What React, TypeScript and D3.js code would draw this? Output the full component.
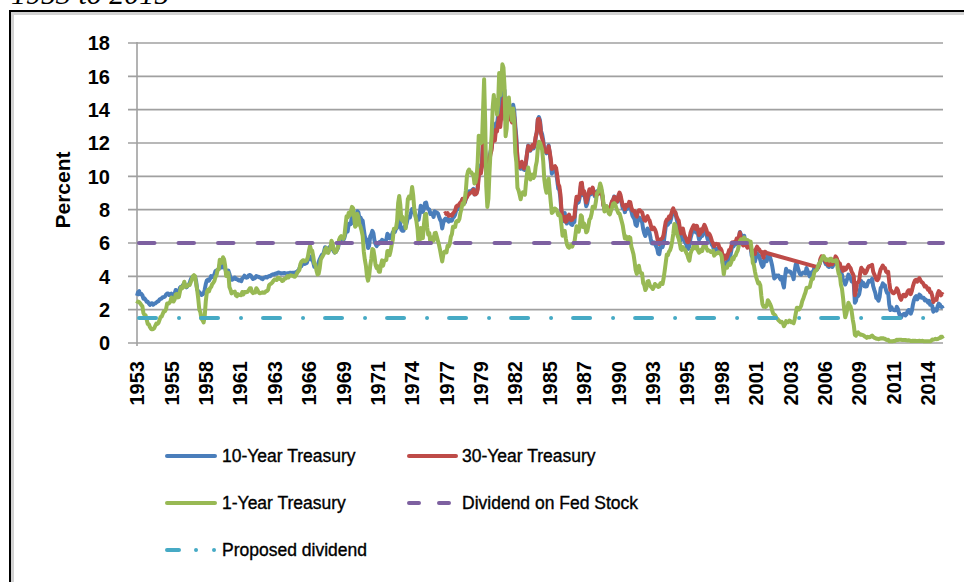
import * as d3 from 'd3';

// monthly yields, first value = April 1953
const tenYear = [
  2.83, 3.05, 3.11, 2.93, 2.95, 2.87, 2.66, 2.68, 2.59,
  2.48, 2.47, 2.37, 2.29, 2.37, 2.38, 2.30, 2.36, 2.38, 2.43, 2.48, 2.51,
  2.61, 2.65, 2.68, 2.75, 2.76, 2.78, 2.90, 2.97, 2.97, 2.88, 2.89, 2.96,
  2.90, 2.84, 2.96, 3.18, 3.07, 3.00, 3.11, 3.33, 3.38, 3.34, 3.49, 3.59,
  3.46, 3.34, 3.41, 3.48, 3.60, 3.80, 3.93, 3.93, 3.92, 3.97, 3.72, 3.21,
  3.09, 3.05, 2.98, 2.88, 2.92, 2.97, 3.20, 3.54, 3.76, 3.80, 3.74, 3.86,
  4.02, 3.96, 3.99, 4.12, 4.31, 4.34, 4.40, 4.43, 4.68, 4.53, 4.53, 4.69,
  4.72, 4.49, 4.25, 4.28, 4.35, 4.15, 3.90, 3.80, 3.80, 3.89, 3.93, 3.84,
  3.84, 3.78, 3.74, 3.78, 3.71, 3.88, 3.92, 4.04, 3.98, 3.92, 3.94, 4.06,
  4.08, 4.04, 3.93, 3.84, 3.87, 3.91, 4.01, 3.98, 3.98, 3.93, 3.92, 3.86,
  3.83, 3.92, 3.93, 3.97, 3.93, 3.99, 4.02, 4.00, 4.08, 4.11, 4.12, 4.13,
  4.17, 4.15, 4.22, 4.23, 4.20, 4.17, 4.19, 4.19, 4.20, 4.19, 4.15, 4.18,
  4.19, 4.21, 4.21, 4.20, 4.21, 4.21, 4.20, 4.25, 4.29, 4.35, 4.45, 4.62,
  4.61, 4.83, 4.87, 4.75, 4.78, 4.81, 5.02, 5.22, 5.18, 5.01, 5.16, 4.84,
  4.58, 4.63, 4.54, 4.59, 4.85, 5.02, 5.16, 5.28, 5.30, 5.48, 5.75, 5.70,
  5.53, 5.56, 5.74, 5.64, 5.87, 5.72, 5.50, 5.42, 5.46, 5.58, 5.70, 6.03,
  6.04, 6.19, 6.30, 6.17, 6.32, 6.57, 6.72, 6.69, 7.16, 7.10, 7.14, 7.65,
  7.79, 7.24, 7.07, 7.39, 7.91, 7.84, 7.46, 7.53, 7.39, 7.33, 6.84, 6.39,
  6.24, 6.11, 5.70, 5.83, 6.39, 6.52, 6.73, 6.58, 6.14, 5.93, 5.81, 5.93,
  5.95, 6.08, 6.07, 6.19, 6.13, 6.11, 6.11, 6.21, 6.55, 6.48, 6.28, 6.36,
  6.46, 6.64, 6.71, 6.67, 6.85, 6.90, 7.13, 7.40, 7.09, 6.79, 6.73, 6.74,
  6.99, 6.96, 7.21, 7.51, 7.58, 7.54, 7.81, 8.04, 8.04, 7.90, 7.68, 7.43,
  7.50, 7.39, 7.73, 8.23, 8.06, 7.86, 8.06, 8.40, 8.43, 8.14, 8.05, 8.00,
  7.74, 7.79, 7.73, 7.56, 7.90, 7.86, 7.83, 7.77, 7.59, 7.41, 7.29, 6.87,
  7.21, 7.39, 7.46, 7.37, 7.46, 7.28, 7.33, 7.40, 7.34, 7.52, 7.58, 7.69,
  7.96, 8.03, 8.04, 8.15, 8.35, 8.46, 8.64, 8.41, 8.42, 8.64, 8.81, 9.01,
  9.10, 9.10, 9.12, 9.18, 9.25, 8.91, 8.95, 9.03, 9.33, 10.30, 10.65, 10.39,
  10.80, 12.41, 12.75, 11.47, 10.18, 9.78, 10.25, 11.10, 11.51, 11.75, 12.68, 12.84,
  12.57, 13.19, 13.12, 13.68, 14.10, 13.47, 14.28, 14.94, 15.32, 15.15, 13.39, 13.72,
  14.59, 14.43, 13.86, 13.87, 13.62, 14.30, 13.95, 13.06, 12.34, 10.91, 10.55, 10.54,
  10.46, 10.72, 10.51, 10.40, 10.38, 10.85, 11.38, 11.85, 11.65, 11.54, 11.69, 11.83,
  11.67, 11.84, 12.32, 12.63, 13.41, 13.56, 13.36, 12.72, 12.52, 12.16, 11.57, 11.50,
  11.38, 11.51, 11.86, 11.43, 10.85, 10.16, 10.31, 10.33, 10.37, 10.24, 9.78, 9.26,
  9.19, 8.70, 7.78, 7.30, 7.71, 7.80, 7.30, 7.17, 7.45, 7.43, 7.25, 7.11,
  7.08, 7.25, 7.25, 8.02, 8.61, 8.40, 8.45, 8.76, 9.42, 9.52, 8.86, 8.99,
  8.67, 8.21, 8.37, 8.72, 9.09, 8.92, 9.06, 9.26, 8.98, 8.80, 8.96, 9.11,
  9.09, 9.17, 9.36, 9.18, 8.86, 8.28, 8.02, 8.11, 8.19, 8.01, 7.87, 7.84,
  8.21, 8.47, 8.59, 8.79, 8.76, 8.48, 8.47, 8.75, 8.89, 8.72, 8.39, 8.08,
  8.09, 7.85, 8.11, 8.04, 8.07, 8.28, 8.27, 7.90, 7.65, 7.53, 7.42, 7.09,
  7.03, 7.34, 7.54, 7.48, 7.39, 7.26, 6.84, 6.59, 6.42, 6.59, 6.87, 6.77,
  6.60, 6.26, 5.98, 5.97, 6.04, 5.96, 5.81, 5.68, 5.36, 5.33, 5.72, 5.77,
  5.75, 5.97, 6.48, 6.97, 7.18, 7.10, 7.30, 7.24, 7.46, 7.74, 7.96, 7.81,
  7.78, 7.47, 7.20, 7.06, 6.63, 6.17, 6.28, 6.49, 6.20, 6.04, 5.93, 5.71,
  5.65, 5.81, 6.27, 6.51, 6.74, 6.91, 6.87, 6.64, 6.83, 6.53, 6.20, 6.30,
  6.58, 6.42, 6.69, 6.89, 6.71, 6.49, 6.22, 6.30, 6.21, 6.03, 5.88, 5.81,
  5.54, 5.57, 5.65, 5.64, 5.65, 5.50, 5.46, 5.34, 4.81, 4.53, 4.83, 4.65,
  4.72, 5.00, 5.23, 5.18, 5.54, 5.90, 5.79, 5.94, 5.92, 6.11, 6.03, 6.28,
  6.66, 6.52, 6.26, 5.99, 6.44, 6.10, 6.05, 5.83, 5.80, 5.74, 5.72, 5.24,
  5.16, 5.10, 4.89, 5.14, 5.39, 5.28, 5.24, 4.97, 4.73, 4.57, 4.65, 5.09,
  5.04, 4.91, 5.28, 5.21, 5.16, 4.93, 4.65, 4.26, 3.87, 3.94, 4.05, 4.03,
  4.05, 3.90, 3.81, 3.96, 3.57, 3.33, 3.98, 4.45, 4.27, 4.29, 4.30, 4.27,
  4.15, 4.08, 3.83, 4.35, 4.72, 4.73, 4.50, 4.28, 4.13, 4.10, 4.19, 4.23,
  4.22, 4.17, 4.50, 4.34, 4.14, 4.00, 4.18, 4.26, 4.20, 4.46, 4.54, 4.47,
  4.42, 4.57, 4.72, 4.99, 5.11, 5.11, 5.09, 4.88, 4.72, 4.73, 4.60, 4.56,
  4.76, 4.72, 4.56, 4.69, 4.75, 5.10, 5.00, 4.67, 4.52, 4.53, 4.15, 4.10,
  3.74, 3.74, 3.51, 3.68, 3.88, 4.10, 4.01, 3.89, 3.69, 3.81, 3.53, 2.42,
  2.52, 2.87, 2.82, 2.93, 3.29, 3.72, 3.56, 3.59, 3.40, 3.39, 3.40, 3.59,
  3.73, 3.69, 3.73, 3.85, 3.42, 3.20, 3.01, 2.70, 2.65, 2.54, 2.76, 3.29,
  3.39, 3.58, 3.41, 3.46, 3.17, 3.00, 3.00, 2.30, 1.98, 2.15, 2.01, 1.98,
  1.97, 1.97, 2.17, 2.05, 1.80, 1.62, 1.53, 1.68, 1.72, 1.75, 1.65, 1.72,
  1.91, 1.98, 1.96, 1.76, 1.93, 2.30, 2.58, 2.74, 2.81, 2.62, 2.72, 2.90,
  2.86, 2.71, 2.72, 2.71, 2.56, 2.60, 2.54, 2.42, 2.53, 2.30, 2.33, 2.21,
  1.88, 1.98, 2.04, 1.94, 2.20, 2.36, 2.32, 2.17, 2.17, 2.07,
];

const oneYear = [
  2.36, 2.48, 2.45, 2.38, 2.28, 2.20, 1.79, 1.67, 1.66,
  1.41, 1.14, 1.13, 0.96, 0.85, 0.82, 0.84, 0.88, 1.03, 1.17, 1.14, 1.21,
  1.39, 1.57, 1.59, 1.75, 1.90, 1.91, 2.02, 2.37, 2.36, 2.39, 2.48, 2.73,
  2.58, 2.49, 2.61, 2.92, 2.94, 2.74, 2.76, 3.10, 3.35, 3.28, 3.44, 3.68,
  3.37, 3.38, 3.42, 3.49, 3.48, 3.65, 3.81, 4.01, 4.07, 4.01, 3.57, 3.18,
  2.65, 1.99, 1.84, 1.45, 1.37, 1.23, 1.61, 2.50, 3.05, 3.19, 3.10, 3.29,
  3.36, 3.54, 3.61, 3.72, 3.96, 4.07, 4.39, 4.42, 5.00, 4.80, 4.81, 5.14,
  5.03, 4.66, 4.02, 4.04, 4.21, 3.36, 3.20, 2.98, 3.07, 3.04, 3.08, 2.86,
  2.81, 2.93, 2.88, 2.88, 2.87, 3.06, 2.92, 3.06, 3.06, 3.05, 3.07, 3.18,
  3.28, 3.28, 3.06, 2.99, 3.03, 3.03, 3.29, 3.20, 3.06, 2.98, 3.00, 3.01,
  3.04, 3.01, 3.03, 3.11, 3.12, 3.20, 3.48, 3.53, 3.57, 3.64, 3.74, 3.81,
  3.79, 3.78, 3.91, 3.91, 3.84, 3.83, 3.72, 3.74, 3.84, 3.86, 3.91, 4.02,
  3.94, 4.03, 4.06, 4.04, 4.03, 3.99, 3.98, 4.07, 4.20, 4.30, 4.37, 4.72,
  4.88, 4.94, 4.97, 4.90, 4.93, 4.97, 5.17, 5.54, 5.82, 5.58, 5.54, 5.20,
  4.75, 4.71, 4.35, 4.11, 4.15, 4.48, 5.01, 5.13, 5.24, 5.37, 5.61, 5.71,
  5.43, 5.41, 5.58, 5.71, 6.14, 5.98, 5.65, 5.43, 5.45, 5.57, 5.75, 6.19,
  6.34, 6.41, 6.34, 6.26, 6.42, 7.04, 7.60, 7.54, 7.82, 7.64, 7.89, 8.17,
  8.10, 7.59, 6.97, 7.06, 7.75, 7.55, 7.10, 6.98, 6.73, 6.43, 5.51, 5.00,
  4.64, 4.01, 3.74, 4.03, 4.63, 5.04, 5.64, 5.59, 5.20, 4.67, 4.49, 4.60,
  4.28, 4.27, 4.67, 4.96, 4.64, 4.93, 4.96, 4.98, 5.52, 5.52, 5.27, 5.52,
  5.89, 6.19, 6.85, 6.85, 6.89, 7.31, 8.39, 8.82, 8.31, 7.40, 7.57, 7.27,
  7.42, 6.88, 7.76, 8.62, 8.78, 8.67, 8.80, 9.36, 8.87, 8.05, 7.66, 7.31,
  6.83, 5.98, 6.11, 6.90, 6.39, 6.29, 7.11, 7.70, 7.75, 6.95, 6.49, 6.60,
  6.00, 6.03, 6.35, 6.15, 6.59, 6.61, 6.37, 6.14, 5.89, 5.59, 5.23, 4.89,
  5.29, 5.47, 5.50, 5.44, 5.84, 5.80, 5.94, 6.37, 6.53, 6.97, 6.95, 6.96,
  7.28, 7.34, 7.31, 7.45, 7.82, 8.09, 8.39, 8.31, 8.64, 9.14, 10.01, 10.30,
  10.41, 10.24, 10.25, 10.12, 10.12, 9.57, 9.64, 9.98, 10.84, 12.44, 12.39, 11.98,
  12.06, 13.92, 15.82, 13.30, 9.39, 8.16, 8.65, 10.24, 11.52, 12.49, 14.15, 14.88,
  14.08, 14.57, 13.71, 14.32, 16.20, 14.86, 15.72, 16.72, 16.52, 15.38, 12.41, 12.85,
  14.32, 14.73, 13.95, 13.98, 13.34, 14.07, 13.24, 11.43, 10.85, 9.32, 9.16, 8.91,
  8.62, 8.92, 9.04, 8.98, 8.90, 9.66, 10.20, 10.53, 10.16, 9.81, 9.94, 10.11,
  9.90, 10.04, 10.59, 10.90, 11.66, 12.08, 12.03, 11.82, 11.58, 10.90, 9.82, 9.33,
  9.02, 9.29, 9.86, 9.14, 8.46, 7.80, 7.86, 8.05, 8.07, 8.01, 7.88, 7.67,
  7.73, 7.61, 7.03, 6.44, 6.65, 6.73, 6.27, 5.93, 5.77, 5.72, 5.80, 5.87,
  5.78, 5.96, 6.03, 6.50, 7.00, 6.80, 6.68, 7.03, 7.67, 7.59, 6.96, 7.17,
  6.99, 6.64, 6.71, 7.01, 7.40, 7.49, 7.75, 8.17, 8.09, 8.11, 8.48, 8.99,
  9.05, 9.25, 9.57, 9.36, 8.98, 8.44, 7.89, 8.18, 8.22, 7.99, 7.77, 7.72,
  7.92, 8.11, 8.35, 8.40, 8.32, 8.10, 7.94, 7.78, 7.76, 7.55, 7.31, 7.05,
  6.64, 6.27, 6.40, 6.24, 6.13, 6.36, 6.31, 5.78, 5.57, 5.33, 4.89, 4.38,
  4.15, 4.29, 4.63, 4.30, 4.19, 4.17, 3.60, 3.47, 3.18, 3.30, 3.68, 3.71,
  3.50, 3.39, 3.33, 3.24, 3.36, 3.54, 3.47, 3.44, 3.36, 3.39, 3.58, 3.61,
  3.54, 3.87, 4.32, 4.82, 5.31, 5.27, 5.48, 5.56, 5.76, 6.11, 6.54, 7.14,
  7.05, 6.70, 6.43, 6.27, 6.00, 5.64, 5.59, 5.75, 5.62, 5.59, 5.43, 5.31,
  5.09, 4.94, 5.34, 5.54, 5.64, 5.81, 5.85, 5.67, 5.83, 5.55, 5.42, 5.47,
  5.61, 5.53, 5.80, 5.99, 5.87, 5.69, 5.54, 5.56, 5.52, 5.46, 5.46, 5.53,
  5.24, 5.31, 5.39, 5.38, 5.44, 5.41, 5.36, 5.21, 4.71, 4.12, 4.53, 4.52,
  4.51, 4.70, 4.78, 4.69, 4.85, 5.10, 5.03, 5.20, 5.25, 5.43, 5.55, 5.84,
  6.12, 6.22, 6.22, 6.15, 6.33, 6.17, 6.08, 6.18, 6.13, 6.01, 6.09, 5.60,
  4.81, 4.68, 4.30, 3.98, 3.78, 3.58, 3.62, 3.47, 2.82, 2.33, 2.18, 2.22,
  2.16, 2.23, 2.57, 2.48, 2.35, 2.20, 1.96, 1.76, 1.72, 1.65, 1.49, 1.45,
  1.36, 1.30, 1.24, 1.27, 1.18, 1.01, 1.12, 1.31, 1.24, 1.25, 1.34, 1.31,
  1.24, 1.24, 1.19, 1.43, 1.78, 2.12, 2.10, 2.02, 2.12, 2.23, 2.50, 2.67,
  2.86, 3.03, 3.30, 3.32, 3.33, 3.36, 3.64, 3.87, 3.85, 4.18, 4.33, 4.35,
  4.45, 4.68, 4.77, 4.90, 5.00, 5.16, 5.22, 5.08, 4.97, 5.01, 5.01, 4.94,
  5.06, 5.05, 4.92, 4.93, 4.91, 4.96, 4.96, 4.47, 4.14, 4.10, 3.50, 3.26,
  2.71, 2.05, 1.54, 1.74, 2.06, 2.42, 2.28, 2.18, 1.91, 1.42, 1.07, 0.49,
  0.44, 0.62, 0.64, 0.55, 0.50, 0.51, 0.48, 0.46, 0.40, 0.37, 0.31, 0.37,
  0.35, 0.35, 0.40, 0.45, 0.37, 0.32, 0.29, 0.26, 0.26, 0.23, 0.25, 0.29,
  0.27, 0.29, 0.26, 0.25, 0.19, 0.18, 0.19, 0.11, 0.10, 0.11, 0.11, 0.12,
  0.12, 0.16, 0.19, 0.18, 0.19, 0.19, 0.19, 0.18, 0.18, 0.18, 0.18, 0.16,
  0.15, 0.16, 0.15, 0.12, 0.12, 0.14, 0.12, 0.13, 0.12, 0.12, 0.12, 0.13,
  0.12, 0.12, 0.13, 0.11, 0.10, 0.10, 0.11, 0.11, 0.11, 0.10, 0.13, 0.21,
  0.20, 0.22, 0.25, 0.23, 0.24, 0.28, 0.30, 0.38, 0.37, 0.26,
];

// 30-year: Feb 1977 - Feb 2002, then again from Feb 2006
const thirtyYearEarly = [
  7.75, 7.80, 7.73, 7.80, 7.64, 7.64, 7.68, 7.64, 7.77, 7.85, 7.94,
  8.18, 8.25, 8.23, 8.34, 8.43, 8.50, 8.65, 8.47, 8.47, 8.69, 8.75, 8.88,
  8.94, 9.00, 9.03, 9.08, 9.19, 8.92, 8.92, 8.97, 9.21, 9.99, 10.37, 10.18,
  10.60, 12.13, 12.34, 11.40, 10.36, 9.81, 10.24, 11.00, 11.34, 11.59, 12.37, 12.40,
  12.14, 12.80, 12.69, 13.20, 13.60, 12.96, 13.59, 14.17, 14.67, 14.68, 13.35, 13.45,
  14.22, 14.22, 13.53, 13.37, 13.24, 13.92, 13.55, 12.77, 12.07, 11.17, 10.54, 10.54,
  10.63, 10.88, 10.63, 10.48, 10.53, 10.93, 11.40, 11.82, 11.63, 11.58, 11.75, 11.88,
  11.75, 11.95, 12.38, 12.65, 13.43, 13.44, 13.21, 12.54, 12.29, 11.98, 11.56, 11.52,
  11.45, 11.47, 11.81, 11.47, 11.05, 10.44, 10.50, 10.56, 10.61, 10.50, 10.06, 9.54,
  9.40, 8.93, 7.96, 7.39, 7.52, 7.57, 7.27, 7.33, 7.62, 7.70, 7.52, 7.37,
  7.39, 7.54, 7.55, 8.25, 8.78, 8.57, 8.64, 8.97, 9.59, 9.61, 8.95, 9.12,
  8.83, 8.43, 8.63, 8.95, 9.23, 9.00, 9.14, 9.32, 9.06, 8.89, 9.02, 9.01,
  8.93, 9.01, 9.17, 9.03, 8.83, 8.27, 8.08, 8.12, 8.15, 8.00, 7.90, 7.90,
  8.26, 8.50, 8.56, 8.76, 8.73, 8.46, 8.50, 8.86, 9.03, 8.86, 8.54, 8.24,
  8.27, 8.03, 8.29, 8.21, 8.27, 8.47, 8.45, 8.14, 7.95, 7.93, 7.92, 7.70,
  7.58, 7.85, 7.97, 7.96, 7.89, 7.84, 7.60, 7.39, 7.34, 7.53, 7.61, 7.44,
  7.34, 7.09, 6.82, 6.85, 6.92, 6.81, 6.63, 6.32, 6.00, 5.94, 6.21, 6.25,
  6.29, 6.49, 6.91, 7.27, 7.41, 7.40, 7.58, 7.49, 7.71, 7.94, 8.08, 7.87,
  7.85, 7.61, 7.45, 7.36, 6.95, 6.57, 6.72, 6.86, 6.55, 6.37, 6.26, 6.06,
  6.05, 6.24, 6.60, 6.79, 6.93, 7.06, 7.03, 6.84, 7.03, 6.81, 6.48, 6.55,
  6.83, 6.69, 6.93, 7.09, 6.94, 6.77, 6.51, 6.58, 6.50, 6.33, 6.11, 5.99,
  5.81, 5.89, 5.95, 5.92, 5.93, 5.70, 5.68, 5.54, 5.20, 5.01, 5.25, 5.06,
  5.16, 5.37, 5.58, 5.55, 5.81, 6.04, 5.98, 6.07, 6.07, 6.26, 6.15, 6.35,
  6.63, 6.23, 6.05, 5.85, 6.15, 5.93, 5.85, 5.72, 5.83, 5.80, 5.78, 5.49,
  5.54, 5.45, 5.34, 5.65, 5.78, 5.67, 5.61, 5.48, 5.48, 5.32, 5.12, 5.48,
  5.45, 5.40,
];

const thirtyYearLate = [
  4.54, 4.73, 5.06, 5.20, 5.15, 5.13, 5.00, 4.85, 4.85, 4.69, 4.68,
  4.85, 4.82, 4.72, 4.87, 4.90, 5.20, 5.11, 4.93, 4.79, 4.77, 4.52, 4.53,
  4.33, 4.52, 4.39, 4.44, 4.60, 4.69, 4.57, 4.50, 4.27, 4.17, 4.00, 2.87,
  3.13, 3.59, 3.64, 3.76, 4.23, 4.52, 4.41, 4.37, 4.19, 4.19, 4.31, 4.49,
  4.60, 4.62, 4.64, 4.69, 4.29, 4.13, 3.99, 3.80, 3.77, 3.87, 4.19, 4.42,
  4.52, 4.65, 4.51, 4.50, 4.29, 4.23, 4.27, 3.65, 3.18, 3.13, 3.02, 2.98,
  3.03, 3.11, 3.28, 3.18, 2.93, 2.70, 2.59, 2.77, 2.88, 2.90, 2.80, 2.88,
  3.08, 3.17, 3.16, 2.93, 3.11, 3.40, 3.61, 3.76, 3.79, 3.68, 3.80, 3.89,
  3.77, 3.66, 3.62, 3.52, 3.39, 3.42, 3.33, 3.20, 3.26, 3.04, 3.04, 2.83,
  2.46, 2.57, 2.63, 2.59, 2.96, 3.11, 3.07, 2.86, 2.95, 2.89,
];

const fedStockDividend = 6;
const proposedDividend = 1.5;

const yTicks = [0, 2, 4, 6, 8, 10, 12, 14, 16, 18];
const xTickLabels = [
  '1953', '1955', '1958', '1961', '1963', '1966', '1969', '1971', '1974', '1977', '1979', '1982',
  '1985', '1987', '1990', '1993', '1995', '1998', '2001', '2003', '2006', '2009', '2011', '2014',
];
const X_TICK_EVERY = 32; // months between category labels

// month offset from April 1953
const monthIndex = (year: number, month: number) => (year - 1953) * 12 + (month - 4);

const COLORS = {
  ten: '#4a7ebb',
  thirty: '#be4b48',
  one: '#98b954',
  fed: '#7d60a0',
  proposed: '#46aac5',
};

const FONT = '"Liberation Sans", Arial, sans-serif';

export default function App() {
  const width = 964;
  const height = 582;
  const plot = { left: 137, right: 943, top: 43, bottom: 343 };

  const x = d3.scaleLinear().domain([0, tenYear.length - 1]).range([plot.left, plot.right]);
  const y = d3.scaleLinear().domain([0, 18]).range([plot.bottom, plot.top]);

  const line = d3
    .line<[number, number]>()
    .x((d) => x(d[0]))
    .y((d) => y(d[1]));

  const tenPts: [number, number][] = tenYear.map((v, i) => [i, v]);
  const onePts: [number, number][] = oneYear.map((v, i) => [i, v]);
  const s1 = monthIndex(1977, 2);
  const s2 = monthIndex(2006, 2);
  const thirtyPts: [number, number][] = [
    ...thirtyYearEarly.map((v, i) => [s1 + i, v] as [number, number]),
    ...thirtyYearLate.map((v, i) => [s2 + i, v] as [number, number]),
  ];
  const lastIdx = tenYear.length - 1;
  const fedPts: [number, number][] = [
    [0, fedStockDividend],
    [lastIdx, fedStockDividend],
  ];
  const propPts: [number, number][] = [
    [0, proposedDividend],
    [lastIdx, proposedDividend],
  ];

  const legendRows = [456, 503, 550];
  const legendCols = [
    { x1: 165, x2: 217, tx: 222 },
    { x1: 407, x2: 458, tx: 462 },
  ];
  const legendItems = [
    { label: '10-Year Treasury', color: COLORS.ten, dash: undefined as string | undefined, row: 0, col: 0 },
    { label: '30-Year Treasury', color: COLORS.thirty, dash: undefined, row: 0, col: 1 },
    { label: '1-Year Treasury', color: COLORS.one, dash: undefined, row: 1, col: 0 },
    { label: 'Dividend on Fed Stock', color: COLORS.fed, dash: '10 20', row: 1, col: 1 },
    { label: 'Proposed dividend', color: COLORS.proposed, dash: '12 17 0.01 18 0.01 60', row: 2, col: 0 },
  ];

  return (
    <svg
      width={width}
      height={height}
      style={{ position: 'absolute', left: 0, top: 0, background: '#fff' }}
    >
      {/* caption above the frame, cut off as in the source */}
      <text x={11} y={3.5} fontFamily='"Liberation Serif", "Times New Roman", serif' fontStyle="italic" fontSize={30} fill="#000">
        1953 to 2015
      </text>

      {/* frame */}
      <line x1={9} x2={width} y1={11} y2={11} stroke="#000" strokeWidth={2} />
      <line x1={10} x2={10} y1={10} y2={height} stroke="#000" strokeWidth={2} />
      <line x1={11} x2={width} y1={13.5} y2={13.5} stroke="#d2d2d2" strokeWidth={3} />
      <line x1={12.5} x2={12.5} y1={12} y2={height} stroke="#d2d2d2" strokeWidth={3} />

      {/* gridlines */}
      {yTicks.map((t) => (
        <line key={t} x1={128} x2={plot.right} y1={y(t)} y2={y(t)} stroke="#a0a0a0" strokeWidth={1.6} />
      ))}
      <line x1={plot.left} x2={plot.left} y1={plot.top - 1} y2={plot.bottom + 3} stroke="#a0a0a0" strokeWidth={1.6} />

      {/* y tick labels */}
      {yTicks.map((t) => (
        <text
          key={t}
          x={110}
          y={y(t)}
          dy="0.36em"
          textAnchor="end"
          fontFamily={FONT}
          fontWeight="bold"
          fontSize={20}
          fill="#000"
        >
          {t}
        </text>
      ))}
      <text
        transform={`translate(62,${(plot.top + plot.bottom) / 2 - 3}) rotate(-90)`}
        textAnchor="middle"
        dy="0.36em"
        fontFamily={FONT}
        fontWeight="bold"
        fontSize={21}
        fill="#000"
      >
        Percent
      </text>

      {/* x tick labels */}
      {xTickLabels.map((lab, k) => (
        <text
          key={lab + k}
          transform={`translate(${x(k * X_TICK_EVERY)},361) rotate(-90)`}
          textAnchor="end"
          dy="0.36em"
          fontFamily={FONT}
          fontWeight="bold"
          fontSize={20}
          fill="#000"
        >
          {lab}
        </text>
      ))}

      {/* series */}
      <g fill="none" strokeLinejoin="round" strokeWidth={4}>
        <path d={line(tenPts)!} stroke={COLORS.ten} />
        <path d={line(thirtyPts)!} stroke={COLORS.thirty} />
        <path d={line(onePts)!} stroke={COLORS.one} />
        <path d={line(fedPts)!} stroke={COLORS.fed} strokeDasharray="15.5 24" strokeDashoffset={-2} strokeLinecap="round" />
        <path d={line(propPts)!} stroke={COLORS.proposed} strokeDasharray="17 23 0.01 22" strokeDashoffset={-2} strokeLinecap="round" />
      </g>

      {/* legend */}
      {legendItems.map((it) => {
        const c = legendCols[it.col];
        const ry = legendRows[it.row];
        return (
          <g key={it.label}>
            <line
              x1={c.x1 + 2}
              x2={c.x2 - 2}
              y1={ry}
              y2={ry}
              stroke={it.color}
              strokeWidth={4}
              strokeLinecap="round"
              strokeDasharray={it.dash}
            />
            <text
              x={c.tx}
              y={ry}
              dy="0.36em"
              fontFamily={FONT}
              fontSize={17.5}
              fill="#000"
              stroke="#000"
              strokeWidth={0.35}
            >
              {it.label}
            </text>
          </g>
        );
      })}
    </svg>
  );
}
